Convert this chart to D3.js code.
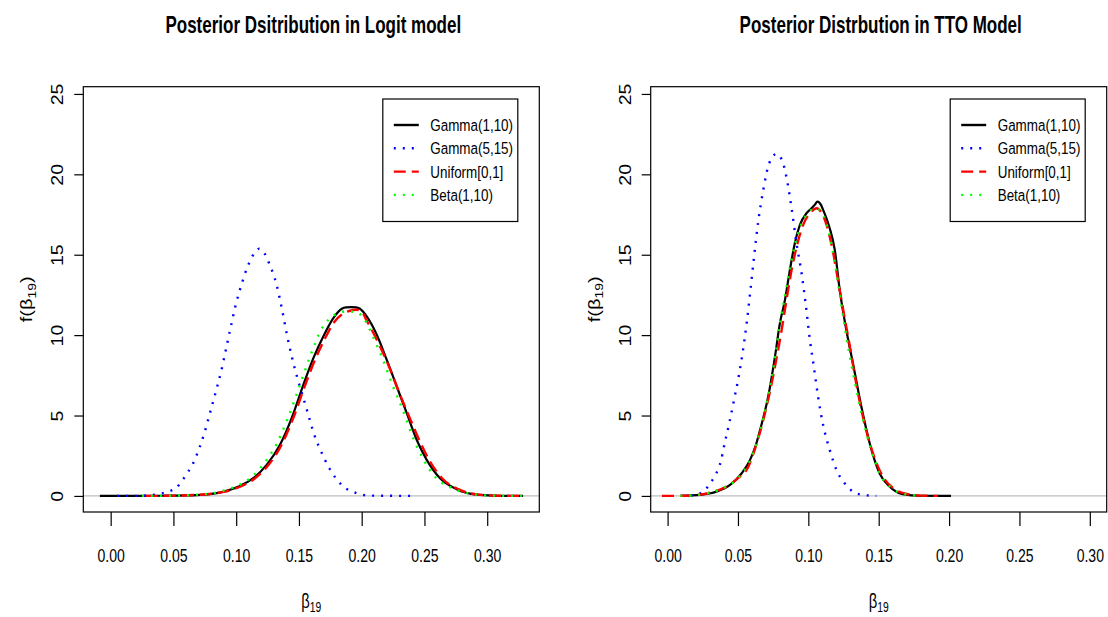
<!DOCTYPE html>
<html>
<head>
<meta charset="utf-8">
<script src="https://cdn.jsdelivr.net/npm/d3@7"></script>
<style>
  body { margin: 0; background: #fff; }
  text { font-family: "Liberation Sans", Arial, Helvetica, sans-serif; fill: #000; }
</style>
</head>
<body>
<svg id="chart" width="1108" height="617"></svg>
<script>
// Chart values
const titles = ["Posterior Dsitribution in Logit model", "Posterior Distrbution in TTO Model"];
const legendLabels = ["Gamma(1,10)", "Gamma(5,15)", "Uniform[0,1]", "Beta(1,10)"];
const xTicks = [0, 0.05, 0.10, 0.15, 0.20, 0.25, 0.30];
const yTicks = [0, 5, 10, 15, 20, 25];

// Logit model, [beta, density]
const logitGamma110 = [[-0.0086,0],[0.02,0],[0.04,0.01],[0.06,0.03],[0.074,0.08],[0.09,0.27],[0.103,0.62],[0.1136,1.1],[0.1243,1.93],[0.1349,3.18],[0.1442,4.84],[0.1535,6.91],[0.1615,8.57],[0.1694,9.92],[0.1774,11.06],[0.1841,11.64],[0.1875,11.73],[0.192,11.74],[0.1955,11.73],[0.1986,11.64],[0.204,11.16],[0.212,10.02],[0.2199,8.47],[0.2279,6.81],[0.2359,5.15],[0.2438,3.49],[0.2518,2.24],[0.2624,1.1],[0.2757,0.42],[0.2916,0.08],[0.305,0.02],[0.3286,0]];
const logitGamma515 = [[0.005,0],[0.02,0],[0.035,0.08],[0.045,0.25],[0.0525,0.52],[0.0574,1.0],[0.0618,1.51],[0.0664,2.15],[0.0705,2.95],[0.0746,3.9],[0.0791,5.15],[0.0837,6.46],[0.0882,7.8],[0.0919,9.13],[0.0956,10.48],[0.0996,11.87],[0.1044,13.18],[0.1097,14.38],[0.1145,15.1],[0.1184,15.38],[0.1225,15.1],[0.1261,14.49],[0.1323,13.1],[0.1365,11.6],[0.1405,10.0],[0.1445,8.6],[0.1485,7.4],[0.1535,6.1],[0.158,4.9],[0.162,3.85],[0.168,2.7],[0.1742,1.72],[0.1841,0.68],[0.196,0.17],[0.2066,0.02],[0.2433,0]];
const logitUniform = [[0.028,0],[0.05,0.02],[0.07,0.07],[0.09,0.25],[0.104,0.6],[0.115,1.1],[0.126,1.95],[0.136,3.15],[0.1455,4.85],[0.155,6.9],[0.163,8.5],[0.1705,9.75],[0.178,10.8],[0.1845,11.3],[0.19,11.5],[0.1955,11.58],[0.2,11.45],[0.204,10.9],[0.2146,9.3],[0.2225,7.9],[0.2305,6.3],[0.238,4.9],[0.246,3.45],[0.254,2.2],[0.264,1.1],[0.277,0.42],[0.293,0.08],[0.306,0.02],[0.3275,0]];
const logitBeta = [[0.025,0],[0.05,0.02],[0.07,0.08],[0.088,0.28],[0.1,0.6],[0.112,1.15],[0.122,2.0],[0.132,3.2],[0.1415,4.9],[0.151,6.95],[0.159,8.7],[0.1668,10.2],[0.174,11.0],[0.181,11.35],[0.188,11.48],[0.196,11.42],[0.202,11.0],[0.209,9.9],[0.217,8.47],[0.225,6.8],[0.233,5.3],[0.241,3.6],[0.249,2.3],[0.259,1.15],[0.273,0.45],[0.29,0.1],[0.305,0.02],[0.3286,0]];

// TTO model, [beta, density]
const ttoGamma110 = [[0.009,0],[0.0232,0.06],[0.035,0.27],[0.0444,0.68],[0.0527,1.41],[0.0586,2.24],[0.0625,3.1],[0.0657,4.1],[0.0715,6.18],[0.0763,8.66],[0.0798,10.74],[0.0834,12.19],[0.0869,14.05],[0.0904,15.71],[0.094,16.85],[0.0987,17.58],[0.1023,17.89],[0.1045,18.1],[0.1065,18.3],[0.109,18.1],[0.1105,17.79],[0.1152,16.65],[0.1188,15.3],[0.1223,12.81],[0.127,10.32],[0.1317,8.25],[0.1377,5.55],[0.1436,3.28],[0.1506,1.41],[0.1577,0.58],[0.1671,0.11],[0.18,0.01],[0.2014,0]];
const ttoGamma515 = [[0.01,0],[0.018,0.05],[0.0255,0.27],[0.0302,0.79],[0.0343,1.35],[0.0378,2.15],[0.0404,3.21],[0.0439,4.56],[0.0472,5.97],[0.0503,7.32],[0.0534,8.97],[0.0562,10.74],[0.059,12.92],[0.0616,14.99],[0.0644,17.06],[0.068,19.03],[0.0722,20.69],[0.0775,21.27],[0.0817,20.79],[0.0846,19.76],[0.0881,17.89],[0.0916,15.71],[0.0952,13.85],[0.0982,11.88],[0.1011,9.7],[0.1039,8.04],[0.1069,6.18],[0.1105,4.42],[0.1152,2.86],[0.12,1.62],[0.1258,0.79],[0.1317,0.27],[0.1388,0.06],[0.1483,0]];
const ttoUniform = [[-0.004,0],[0.01,0],[0.02,0.05],[0.03,0.2],[0.04,0.5],[0.05,1.1],[0.0574,1.82],[0.062,2.9],[0.068,4.73],[0.0725,6.4],[0.0775,8.6],[0.081,10.3],[0.0845,12.2],[0.088,14.0],[0.092,15.6],[0.0965,16.9],[0.1015,17.6],[0.1058,17.89],[0.1095,17.6],[0.1135,16.7],[0.1175,15.2],[0.1215,13.2],[0.1255,11.2],[0.1291,9.5],[0.134,7.0],[0.1388,4.93],[0.145,2.9],[0.153,1.2],[0.16,0.5],[0.17,0.12],[0.18,0.02],[0.192,0]];
const ttoBeta = [[0.009,0],[0.02,0.05],[0.03,0.2],[0.04,0.5],[0.05,1.1],[0.058,2.1],[0.066,4.1],[0.0715,6.2],[0.0765,8.7],[0.08,10.8],[0.0835,12.5],[0.087,14.2],[0.091,15.8],[0.095,16.9],[0.1,17.6],[0.105,17.9],[0.109,17.7],[0.113,16.9],[0.117,15.4],[0.121,13.3],[0.125,11.0],[0.129,8.9],[0.1335,6.9],[0.139,4.7],[0.1445,2.9],[0.151,1.35],[0.159,0.5],[0.168,0.12],[0.181,0]];

// styles for Gamma(1,10), Gamma(5,15), Uniform[0,1], Beta(1,10)
const seriesColors = ["#000000", "#0000ff", "#ff0000", "#00ff00"];
const seriesDash = [null, "2,7", "12,6", "2,7"];
const drawOrder = [0, 1, 2, 3];

const panels = [
    { title: titles[0], left: 83.3, right: 539.3, xDomain: [-0.0218, 0.3415],
      series: [logitGamma110, logitGamma515, logitUniform, logitBeta] },
    { title: titles[1], left: 650.7, right: 1106.7, xDomain: [-0.012, 0.312],
      series: [ttoGamma110, ttoGamma515, ttoUniform, ttoBeta] }
];

const plotTop = 86.7;
const plotBottom = 512;
const yDomain = [-1.0, 25.45];

const svg = d3.select("#chart");

const draw_panel = (p) => {
    const scaleX = d3.scaleLinear().domain(p.xDomain).range([p.left, p.right]);
    const scaleY = d3.scaleLinear().domain(yDomain).range([plotBottom, plotTop]);
    const g = svg.append("g");

    // zero line
    g.append("line")
        .attr("x1", p.left).attr("x2", p.right)
        .attr("y1", scaleY(0)).attr("y2", scaleY(0))
        .attr("stroke", "#bebebe").attr("stroke-width", 1.2);

    // curves
    const lineFunc = d3.line()
        .x(d => scaleX(d[0]))
        .y(d => scaleY(d[1]))
        .curve(d3.curveMonotoneX);

    drawOrder.forEach(i => {
        g.append("path")
            .attr("d", lineFunc(p.series[i]))
            .attr("fill", "none")
            .attr("stroke", seriesColors[i])
            .attr("stroke-width", i === 0 ? 2.2 : 2.4)
            .attr("stroke-dasharray", seriesDash[i])
            .attr("stroke-linejoin", "round");
    });

    // x axis
    const xAxis = g.append("g")
        .attr("transform", "translate(0," + plotBottom + ")")
        .call(d3.axisBottom(scaleX).tickValues(xTicks).tickSize(14).tickFormat(d3.format(".2f")));
    xAxis.select(".domain").remove();
    xAxis.selectAll(".tick line").attr("stroke", "#000").attr("stroke-width", 1.2);
    xAxis.selectAll(".tick text")
        .attr("y", 49.7).attr("dy", "0")
        .attr("font-size", 19)
        .attr("font-family", null)
        .attr("transform", "scale(0.74,1)");

    // y axis
    const yAxis = g.append("g")
        .attr("transform", "translate(" + p.left + ",0)")
        .call(d3.axisLeft(scaleY).tickValues(yTicks).tickSize(9));
    yAxis.select(".domain").remove();
    yAxis.selectAll(".tick line").attr("stroke", "#000").attr("stroke-width", 1.2);
    yAxis.selectAll(".tick text")
        .attr("x", null).attr("dy", null)
        .attr("font-size", 19.5)
        .attr("font-family", null)
        .attr("text-anchor", "middle")
        .attr("transform", "translate(-20,0) scale(0.88,1) rotate(-90)");

    // plot box
    g.append("rect")
        .attr("x", p.left).attr("y", plotTop)
        .attr("width", p.right - p.left).attr("height", plotBottom - plotTop)
        .attr("fill", "none").attr("stroke", "#000").attr("stroke-width", 1.2);

    // title
    const cx = (p.left + p.right) / 2;
    g.append("text")
        .attr("text-anchor", "middle")
        .attr("font-weight", "bold")
        .attr("font-size", 23)
        .attr("transform", "translate(" + (cx + 2) + ",33.3) scale(0.74,1)")
        .text(p.title);

    // x label  beta_19
    const xl = g.append("text")
        .attr("text-anchor", "middle")
        .attr("font-size", 20)
        .attr("transform", "translate(" + cx + ",608) scale(0.74,1)");
    xl.append("tspan").text("\u03B2");
    xl.append("tspan").attr("font-size", 14).attr("dy", 4).text("19");

    // y label  f(beta_19)
    const yl = g.append("text")
        .attr("text-anchor", "middle")
        .attr("font-size", 20)
        .attr("transform", "translate(" + (p.left - 51) + "," + ((plotTop + plotBottom) / 2) + ") scale(0.8,1) rotate(-90)");
    yl.append("tspan").text("f(\u03B2");
    yl.append("tspan").attr("font-size", 14).attr("dy", 4).text("19");
    yl.append("tspan").attr("dy", -4).text(")");

    // legend
    const lx = p.right - 21.5 - 135;
    const ly = 99;
    const leg = g.append("g").attr("transform", "translate(" + lx + "," + ly + ")");
    leg.append("rect")
        .attr("width", 135).attr("height", 122.5)
        .attr("fill", "#fff").attr("stroke", "#000").attr("stroke-width", 1.2);
    legendLabels.forEach((lab, i) => {
        const ry = 26 + i * 23.3;
        leg.append("line")
            .attr("x1", 11).attr("x2", 36)
            .attr("y1", ry).attr("y2", ry)
            .attr("stroke", seriesColors[i])
            .attr("stroke-width", 2.4)
            .attr("stroke-dasharray", seriesDash[i]);
        leg.append("text")
            .attr("font-size", 17)
            .attr("transform", "translate(47.5," + (ry + 6) + ") scale(0.79,1)")
            .text(lab);
    });
};

panels.forEach(draw_panel);
</script>
</body>
</html>
